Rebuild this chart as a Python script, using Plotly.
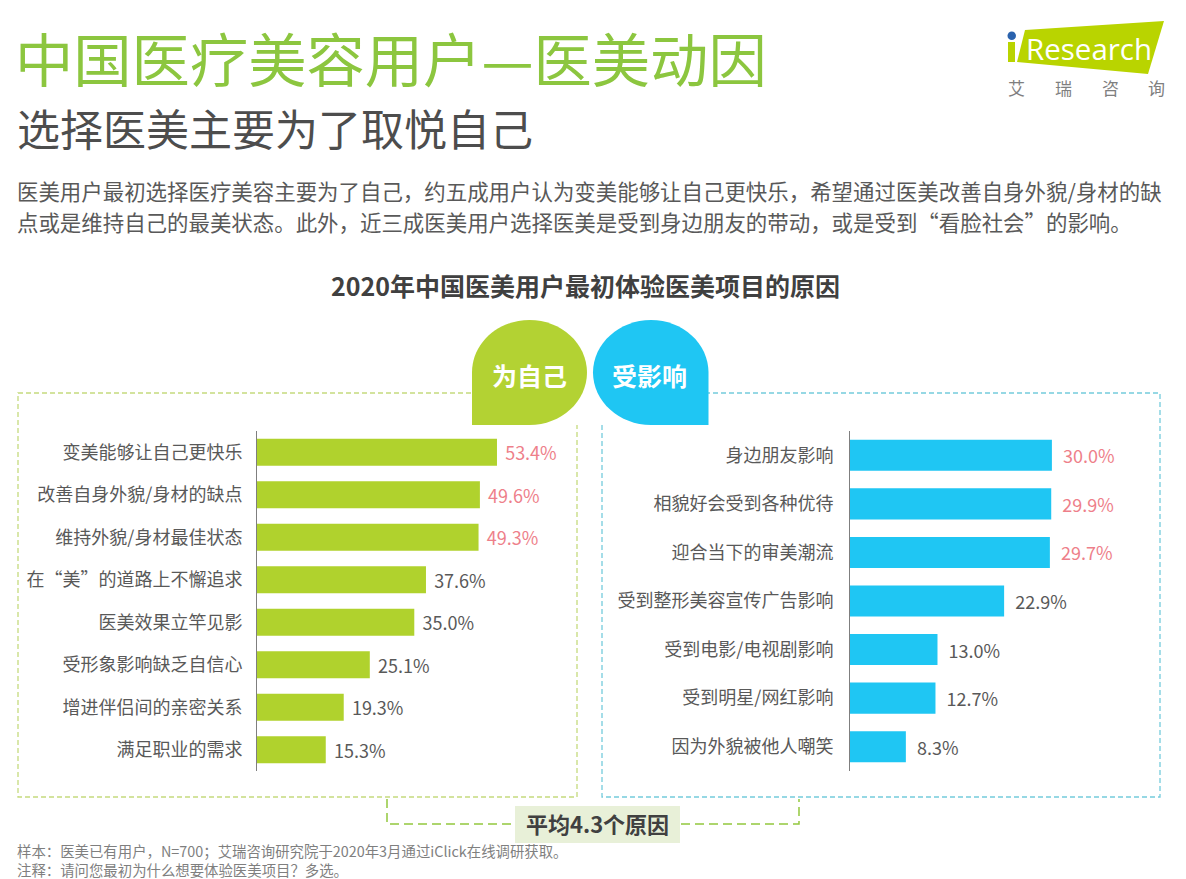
import plotly.graph_objects as go

W, H = 1186, 879
FONT = "Noto Sans CJK SC"

# data
self_labels = ["变美能够让自己更快乐", "改善自身外貌/身材的缺点", "维持外貌/身材最佳状态", "在“美”的道路上不懈追求",
               "医美效果立竿见影", "受形象影响缺乏自信心", "增进伴侣间的亲密关系", "满足职业的需求"]
self_values = [53.4, 49.6, 49.3, 37.6, 35.0, 25.1, 19.3, 15.3]
infl_labels = ["身边朋友影响", "相貌好会受到各种优待", "迎合当下的审美潮流", "受到整形美容宣传广告影响",
               "受到电影/电视剧影响", "受到明星/网红影响", "因为外貌被他人嘲笑"]
infl_values = [30.0, 29.9, 29.7, 22.9, 13.0, 12.7, 8.3]

GREEN = "#b0d22d"
BLUE = "#1fc6f3"
PINK = "#ee7f8a"
TEXT = "#595959"


def px(x):
    return x / W


def py(y):
    return 1 - y / H


def pth(points):
    # pixel path -> paper path string
    out = []
    for cmd, *xy in points:
        vals = [f"{px(xy[i]):.5f},{py(xy[i + 1]):.5f}" for i in range(0, len(xy), 2)]
        out.append(cmd + " ".join(vals))
    return " ".join(out) + " Z"


def label_colors(values):
    return [PINK if i < 3 else TEXT for i in range(len(values))]


fig = go.Figure()
fig.add_trace(go.Bar(
    x=self_values, y=self_labels, orientation="h", marker=dict(color=GREEN, line_width=0),
    text=[f"\u00a0\u200a{v:.1f}%" for v in self_values], textposition="outside", cliponaxis=False,
    constraintext="none", textfont=dict(size=18, color=label_colors(self_values), family=FONT),
    xaxis="x", yaxis="y", hoverinfo="skip",
))
fig.add_trace(go.Bar(
    x=infl_values, y=infl_labels, orientation="h", marker=dict(color=BLUE, line_width=0),
    text=[f"\u00a0\u00a0{v:.1f}%" for v in infl_values], textposition="outside", cliponaxis=False,
    constraintext="none", textfont=dict(size=18, color=label_colors(infl_values), family=FONT),
    xaxis="x2", yaxis="y2", hoverinfo="skip",
))

shapes = []
dash_green = dict(color="#c5da7d", width=1.3, dash="5px,3px")
dash_blue = dict(color="#74cbdc", width=1.3, dash="5px,3px")
dash_brk = dict(color="#93c83e", width=1.5, dash="9px,5px")


def line(points, ln):
    d = " ".join(("M" if i == 0 else "L") + f"{px(x):.5f},{py(y):.5f}" for i, (x, y) in enumerate(points))
    shapes.append(dict(type="path", xref="paper", yref="paper", path=d, line=ln, fillcolor="rgba(0,0,0,0)", layer="below"))


line([(471, 393), (18, 393), (18, 797), (577, 797), (577, 425)], dash_green)
line([(602, 425), (602, 797), (1160, 797), (1160, 393), (708, 393)], dash_blue)
line([(387, 799), (387, 824), (514, 824)], dash_brk)
line([(681, 824), (799, 824), (799, 799)], dash_brk)

# blobs
k = 0.552
rx, ry = 57.5, 52.5
cx, cy = 529.5, 372.5
shapes.append(dict(type="path", xref="paper", yref="paper", fillcolor="#b3d233", line_width=0, path=pth([
    ("M", 472, 425), ("L", 472, cy),
    ("C", 472, cy - ry * k, cx - rx * k, 320, cx, 320),
    ("C", cx + rx * k, 320, 587, cy - ry * k, 587, cy),
    ("C", 587, cy + ry * k, cx + rx * k, 425, cx, 425),
])))
cx2 = 651
shapes.append(dict(type="path", xref="paper", yref="paper", fillcolor=BLUE, line_width=0, path=pth([
    ("M", 708.5, 425), ("L", 708.5, cy),
    ("C", 708.5, cy - ry * k, cx2 + rx * k, 320, cx2, 320),
    ("C", cx2 - rx * k, 320, 593, cy - ry * k, 593, cy),
    ("C", 593, cy + ry * k, cx2 - rx * k, 425, cx2, 425),
])))

# average box
shapes.append(dict(type="rect", xref="paper", yref="paper", x0=px(515), x1=px(680), y0=py(843), y1=py(806),
                   fillcolor="#e8f0d8", line_width=0))

# logo
shapes.append(dict(type="path", xref="paper", yref="paper", fillcolor="#b9d400", line_width=0, path=pth([
    ("M", 1025, 30), ("L", 1164, 21), ("L", 1148, 74), ("L", 1017, 62),
])))
shapes.append(dict(type="rect", xref="paper", yref="paper", x0=px(1008), x1=px(1015), y0=py(62), y1=py(42),
                   fillcolor="#b9d400", line_width=0))
shapes.append(dict(type="circle", xref="paper", yref="paper", x0=px(1007.5), x1=px(1016), y0=py(40), y1=py(31.5),
                   fillcolor="#2a62ad", line_width=0))

anns = []


def txt(x, y, s, size, color=TEXT, anchor="left", family=FONT):
    anns.append(dict(x=px(x), y=py(y), xref="paper", yref="paper", text=s, showarrow=False, xanchor=anchor,
                     yanchor="middle", align=anchor, font=dict(size=size, color=color, family=family),
                     borderpad=0, borderwidth=0))


txt(15, 56, "中国医疗美容用户—医美动因", 58.3, "#8cc63f")
txt(17, 127, "选择医美主要为了取悦自己", 43, "#4d4d4d")
txt(17, 191, "医美用户最初选择医疗美容主要为了自己，约五成用户认为变美能够让自己更快乐，希望通过医美改善自身外貌/身材的缺", 21.45, TEXT)
txt(17, 221, "点或是维持自己的最美状态。此外，近三成医美用户选择医美是受到身边朋友的带动，或是受到“看脸社会”的影响。", 21.45, TEXT)
txt(585, 285, "<b>2020年中国医美用户最初体验医美项目的原因</b>", 25, "#404040", "center")
txt(529, 375, "<b>为自己</b>", 25, "#ffffff", "center")
txt(649.5, 375, "<b>受影响</b>", 25, "#ffffff", "center")
txt(597, 823, "<b>平均4.3个原因</b>", 22, "#404040", "center")
txt(17, 860, "样本：医美已有用户，N=700；艾瑞咨询研究院于2020年3月通过iClick在线调研获取。<br>注释：请问您最初为什么想要体验医美项目？多选。",
    14.4, "#7f7f7f")
txt(1026, 48, "Research", 29.5, "#ffffff", family="Open Sans")
for x, ch in zip([1017, 1063, 1110, 1156], "艾瑞咨询"):
    txt(x, 88, ch, 17, "#7f7f7f", "center")

axis_common = dict(showgrid=False, zeroline=False, showticklabels=False, fixedrange=True, ticks="")
cat_common = dict(autorange="reversed", showgrid=False, zeroline=False, showline=True, linecolor="#7f7f7f", linewidth=1,
                  ticks="", tickfont=dict(size=18, color=TEXT, family=FONT), fixedrange=True)

fig.update_layout(
    width=W, height=H, margin=dict(l=0, r=0, t=0, b=0), autosize=False,
    paper_bgcolor="#ffffff", plot_bgcolor="rgba(0,0,0,0)", showlegend=False,
    bargap=0.36, shapes=shapes, annotations=anns, font=dict(family=FONT),
    xaxis=dict(domain=[px(257), px(257 + 70 * 4.494)], range=[0, 70], anchor="y", **axis_common),
    yaxis=dict(domain=[py(771), py(431)], anchor="x", ticklabelstandoff=10, **cat_common),
    xaxis2=dict(domain=[px(850), px(850 + 45 * 6.73)], range=[0, 45], anchor="y2", **axis_common),
    yaxis2=dict(domain=[py(771), py(431)], anchor="x2", ticklabelstandoff=12, **cat_common),
)

fig.write_html("out.html", config=dict(displayModeBar=False), post_script="document.body.style.margin='0';")
